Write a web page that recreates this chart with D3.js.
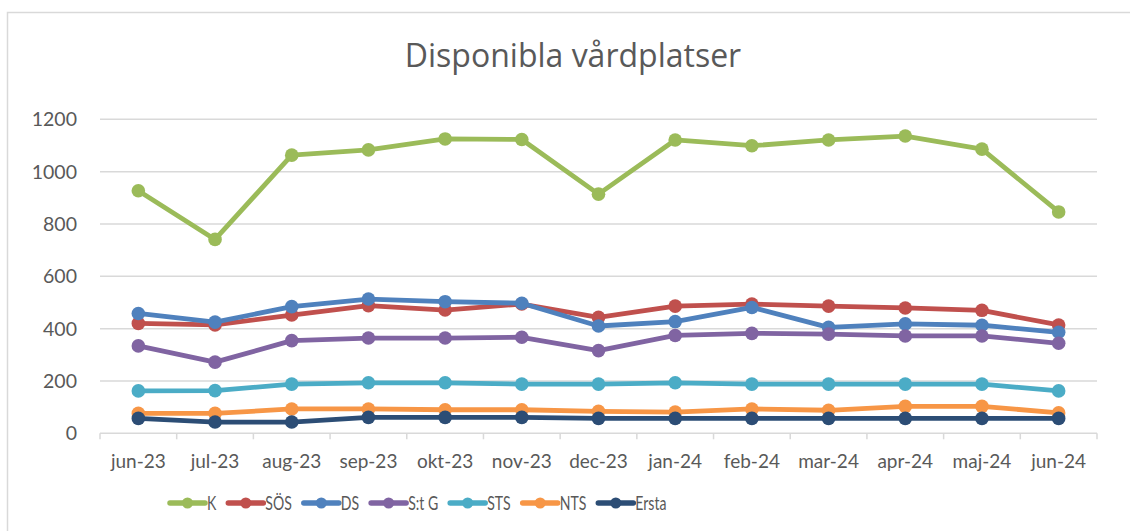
<!DOCTYPE html>
<html>
<head>
<meta charset="utf-8">
<script src="https://cdn.jsdelivr.net/npm/d3@7"></script>
<style>
  body { margin: 0; background: #fff; }
  text { font-family: Lato, "Open Sans", sans-serif; fill: #595959; }
</style>
</head>
<body>
<div id="chart"></div>
<script>
// months on the x axis
const months = ["jun-23","jul-23","aug-23","sep-23","okt-23","nov-23","dec-23","jan-24","feb-24","mar-24","apr-24","maj-24","jun-24"];
const yTicks = [0, 200, 400, 600, 800, 1000, 1200];

// series values
const seriesNames = ["K", "SÖS", "DS", "S:t G", "STS", "NTS", "Ersta"];
const K     = [927, 741, 1063, 1083, 1125, 1123, 914, 1121, 1099, 1121, 1136, 1086, 846];
const SOS   = [420, 414, 452, 488, 471, 494, 443, 486, 494, 486, 479, 470, 414];
const DS    = [458, 425, 484, 513, 503, 497, 410, 427, 481, 405, 418, 413, 386];
const StG   = [334, 272, 354, 364, 364, 367, 316, 374, 382, 379, 372, 372, 344];
const STS   = [162, 163, 188, 193, 193, 188, 188, 193, 188, 188, 188, 188, 162];
const NTS   = [76, 76, 93, 93, 90, 90, 84, 81, 93, 88, 103, 103, 78];
const Ersta = [57, 43, 43, 61, 61, 61, 57, 57, 57, 57, 57, 57, 57];
const colors = ["#9BBB59", "#C0504D", "#4F81BD", "#8064A2", "#4BACC6", "#F79646", "#2C4D75"];

const series = [K, SOS, DS, StG, STS, NTS, Ersta].map((vals, i) => ({
  name: seriesNames[i], color: colors[i], values: vals
}));

const width = 1130, height = 531;

const svg = d3.select("#chart").append("svg")
  .attr("width", width)
  .attr("height", height);

// outer chart frame (runs off the right and bottom edge)
svg.append("rect")
  .attr("x", 7.5).attr("y", 12.5)
  .attr("width", 1140).attr("height", 540)
  .attr("fill", "#fff")
  .attr("stroke", "#d9d9d9")
  .attr("stroke-width", 1.5);

const x = d3.scaleBand().domain(months).range([100, 1097]).padding(0);
const y = d3.scaleLinear().domain([0, 1200]).range([433.3, 119.3]);
const cx = m => x(m) + x.bandwidth() / 2;

// title
svg.append("text")
  .attr("x", 573).attr("y", 67)
  .attr("text-anchor", "middle")
  .style("font-family", "'Open Sans', sans-serif")
  .style("font-size", "32px")
  .text("Disponibla vårdplatser");

// gridlines
svg.append("g")
  .selectAll("line")
  .data(yTicks)
  .join("line")
    .attr("x1", 100).attr("x2", 1097)
    .attr("y1", d => y(d)).attr("y2", d => y(d))
    .attr("stroke", "#d9d9d9")
    .attr("stroke-width", 1.5);

// y labels
svg.append("g")
  .selectAll("text")
  .data(yTicks)
  .join("text")
    .attr("x", 77).attr("y", d => y(d) + 7)
    .attr("text-anchor", "end")
    .style("font-size", "19.5px")
    .text(d => d);

// x axis ticks at category boundaries
const bounds = months.map(m => x(m)).concat([x.range()[1]]);
svg.append("g")
  .selectAll("line")
  .data(bounds)
  .join("line")
    .attr("x1", d => d).attr("x2", d => d)
    .attr("y1", y(0)).attr("y2", y(0) + 6)
    .attr("stroke", "#d9d9d9")
    .attr("stroke-width", 1.5);

svg.append("g")
  .selectAll("text")
  .data(months)
  .join("text")
    .attr("x", d => cx(d)).attr("y", 468)
    .attr("text-anchor", "middle")
    .style("font-size", "19px")
    .text(d => d);

// lines and markers
const line = d3.line()
  .x((d, i) => cx(months[i]))
  .y(d => y(d));

const gs = svg.append("g")
  .selectAll("g")
  .data(series)
  .join("g");

gs.append("path")
  .attr("d", d => line(d.values))
  .attr("fill", "none")
  .attr("stroke", d => d.color)
  .attr("stroke-width", 4.8)
  .attr("stroke-linejoin", "round");

gs.selectAll("circle")
  .data(d => d.values.map(v => ({ v, color: d.color })))
  .join("circle")
    .attr("cx", (d, i) => cx(months[i]))
    .attr("cy", d => y(d.v))
    .attr("r", 6.8)
    .attr("fill", d => d.color);

// legend - text is narrow in the original, so squeeze it horizontally
const squeeze = 0.76;
const legend = svg.append("g");
let lx = 170;
series.forEach(s => {
  legend.append("line")
    .attr("x1", lx).attr("x2", lx + 35)
    .attr("y1", 503).attr("y2", 503)
    .attr("stroke", s.color)
    .attr("stroke-width", 5.5)
    .attr("stroke-linecap", "round");
  legend.append("circle")
    .attr("cx", lx + 17.5).attr("cy", 503)
    .attr("r", 5.5)
    .attr("fill", s.color);
  const t = legend.append("text")
    .attr("transform", `translate(${lx + 37},509.5) scale(${squeeze},1)`)
    .style("font-size", "18.5px")
    .text(s.name);
  lx += 37 + t.node().getComputedTextLength() * squeeze + 12;
});
</script>
</body>
</html>
